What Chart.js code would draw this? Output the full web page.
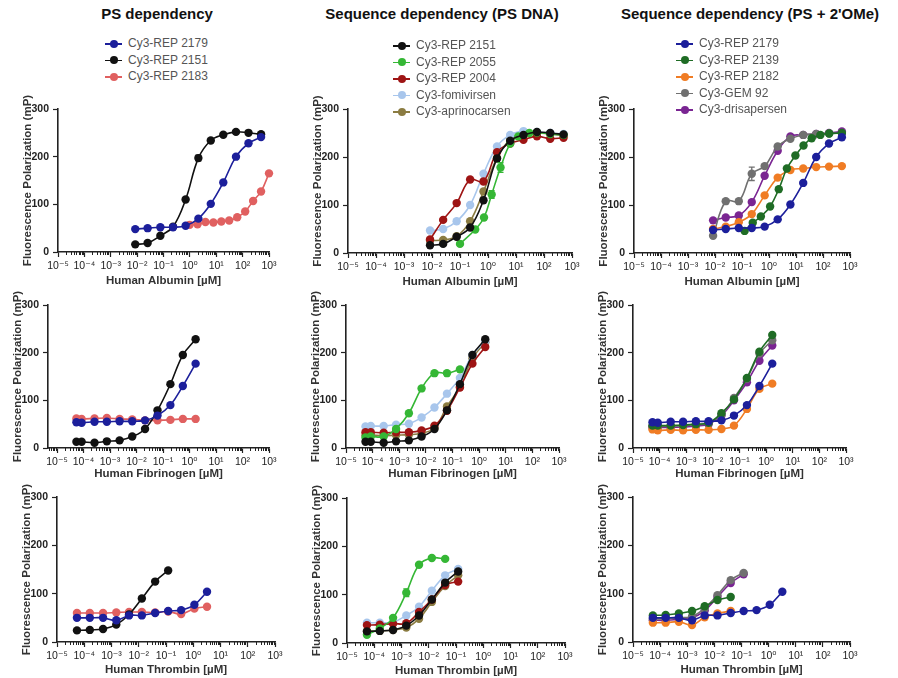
<!doctype html>
<html>
<head>
<meta charset="utf-8">
<script src="https://cdn.jsdelivr.net/npm/chart.js@4.4.0/dist/chart.umd.min.js"></script>
<style>
  body { margin: 0; background: #fff; font-family: "Liberation Sans", Arial, "DejaVu Sans", sans-serif; }
  #page { position: relative; width: 898px; height: 678px; overflow: hidden; }
  .col-title { position: absolute; top: 5px; font-weight: bold; font-size: 15px; color: #111; white-space: nowrap; transform: translateX(-50%); }
  .legend { position: absolute; font-size: 12px; color: #555; z-index: 2; }
  .legend .item { height: 16.5px; line-height: 16.5px; white-space: nowrap; position: relative; padding-left: 23px; }
  .legend .mark { position: absolute; left: 0; top: 8px; width: 17px; height: 1.6px; }
  .legend .dot { position: absolute; left: 4.5px; top: -3.2px; width: 8px; height: 8px; border-radius: 50%; }
  canvas { position: absolute; }
</style>
</head>
<body>
<div id="page"></div>
<script>
// ---- concentrations (µM) ----
const albConc     = [0.0085, 0.025, 0.076, 0.23, 0.69, 2.1, 6.2, 18.5, 56, 167, 500];
const alb2183Conc = [0.98, 1.95, 3.9, 7.8, 15.6, 31, 62.5, 125, 250, 500, 1000];
const alb2055Conc = [0.1, 0.35, 0.72, 1.35, 2.8, 6.2, 12, 30, 56, 167, 500];
const alb2139Conc = [0.125, 0.25, 0.5, 1.1, 2.3, 4.6, 9.5, 19, 38, 80, 170, 500];
const fibConc     = [0.000054, 0.000085, 0.00026, 0.00076, 0.0023, 0.0069, 0.021, 0.062, 0.19, 0.56, 1.7];
const thrConc     = [0.000054, 0.00016, 0.00049, 0.0015, 0.0044, 0.013, 0.04, 0.12, 0.36, 1.1, 3.2];

// ---- fluorescence polarization (mP) : human albumin ----
const alb2179  = [48, 50, 52, 52, 55, 70, 101, 146, 200, 228, 241];
const alb2151  = [16, 19, 34, 53, 110, 197, 234, 246, 252, 250, 247];
const alb2183  = [57, 58, 63, 62, 64, 66, 73, 85, 107, 127, 165];
const alb2055  = [19, 49, 74, 122, 178, 228, 243, 250, 251, 248, 246];
const alb2004  = [28, 69, 104, 153, 149, 210, 228, 236, 243, 238, 240];
const albFomi  = [47, 50, 66, 100, 165, 222, 246, 254, 252, 250, 248];
const albApri  = [26, 27, 35, 66, 128, 198, 236, 246, 250, 248, 245];
const alb2139  = [46, 63, 76, 97, 133, 176, 203, 224, 239, 246, 249, 250];
const alb2182  = [50, 55, 64, 81, 120, 157, 173, 176, 179, 180, 181];
const albGem92 = [36, 108, 108, 165, 181, 222, 238, 246, 248, 249, 250];
const albDris  = [68, 74, 78, 106, 161, 213, 243, 246, 248, 250, 253];

// ---- human fibrinogen ----
const fib2179  = [54, 53, 55, 55, 56, 56, 58, 68, 90, 130, 177];
const fib2151  = [13, 13, 11, 14, 16, 24, 40, 79, 134, 195, 228];
const fib2183  = [62, 61, 62, 63, 61, 60, 58, 58, 59, 61, 61];
const fib2055  = [22, 24, 24, 40, 73, 125, 157, 157, 165];
const fib2004  = [33, 33, 32, 33, 33, 37, 47, 78, 127, 177, 212];
const fibFomi  = [45, 46, 46, 49, 51, 64, 85, 114, 147, 195, 224];
const fibApri  = [27, 27, 26, 27, 28, 31, 42, 87, 128, 188, 222];
const fib2139  = [47, 47, 47, 48, 50, 53, 73, 102, 147, 202, 237];
const fib2182  = [39, 37, 38, 37, 38, 38, 40, 47, 82, 124, 135];
const fibGem92 = [45, 45, 46, 47, 49, 52, 70, 105, 145, 198, 226];
const fibDris  = [43, 43, 43, 44, 46, 50, 68, 100, 138, 183, 215];

// ---- human thrombin ----
const thr2179  = [50, 50, 50, 45, 55, 55, 60, 64, 66, 77, 104];
const thr2151  = [24, 25, 27, 36, 57, 90, 125, 148];
const thr2183  = [60, 60, 60, 61, 62, 62, 61, 63, 58, 69, 73];
const thr2055  = [17, 30, 52, 104, 162, 176, 174];
const thr2004  = [37, 38, 40, 41, 64, 90, 120, 127];
const thrFomi  = [42, 42, 43, 57, 75, 108, 140, 153];
const thrApri  = [25, 25, 27, 32, 50, 85, 118, 140];
const thr2139  = [55, 56, 59, 64, 74, 87, 93];
const thr2182  = [40, 40, 42, 35, 51, 59, 64];
const thrGem92 = [48, 48, 50, 53, 70, 97, 128, 143];
const thrDris  = [45, 45, 47, 50, 65, 93, 122, 140];

// error bars (mP, 0 = none)
const alb2151Err  = [0, 0, 0, 0, 0, 6, 0, 0, 0, 0, 0];
const alb2055Err  = [0, 0, 0, 8, 10, 0, 0, 0, 0, 0, 0];
const albGem92Err = [0, 0, 0, 14, 0, 0, 0, 0, 0, 0, 0];
const thr2055Err  = [0, 0, 0, 8, 0, 0, 0];

const yTicks = [0, 100, 200, 300];
const xDecades = [-5, -4, -3, -2, -1, 0, 1, 2, 3];

const series = {
  r2179: { label: 'Cy3-REP 2179', color: '#1c1f9b' },
  r2151: { label: 'Cy3-REP 2151', color: '#111111' },
  r2183: { label: 'Cy3-REP 2183', color: '#e06060' },
  r2055: { label: 'Cy3-REP 2055', color: '#35b735' },
  r2004: { label: 'Cy3-REP 2004', color: '#9e1414' },
  fomi:  { label: 'Cy3-fomivirsen', color: '#a8c6ec' },
  apri:  { label: 'Cy3-aprinocarsen', color: '#8b7c42' },
  r2139: { label: 'Cy3-REP 2139', color: '#1f6c25' },
  r2182: { label: 'Cy3-REP 2182', color: '#f07c24' },
  gem92: { label: 'Cy3-GEM 92', color: '#707070' },
  dris:  { label: 'Cy3-drisapersen', color: '#7a2592' }
};

const rows = [
  { xTitle: 'Human Albumin [µM]', titleOff: 29, data: {
      r2179: [albConc, alb2179], r2151: [albConc, alb2151, alb2151Err], r2183: [alb2183Conc, alb2183],
      r2055: [alb2055Conc, alb2055, alb2055Err], r2004: [albConc, alb2004], fomi: [albConc, albFomi],
      apri: [albConc, albApri], r2139: [alb2139Conc, alb2139], r2182: [albConc, alb2182],
      gem92: [albConc, albGem92, albGem92Err], dris: [albConc, albDris] } },
  { xTitle: 'Human Fibrinogen [µM]', titleOff: 26, data: {
      r2179: [fibConc, fib2179], r2151: [fibConc, fib2151], r2183: [fibConc, fib2183],
      r2055: [fibConc, fib2055], r2004: [fibConc, fib2004], fomi: [fibConc, fibFomi],
      apri: [fibConc, fibApri], r2139: [fibConc, fib2139], r2182: [fibConc, fib2182],
      gem92: [fibConc, fibGem92], dris: [fibConc, fibDris] } },
  { xTitle: 'Human Thrombin [µM]', titleOff: 28, data: {
      r2179: [thrConc, thr2179], r2151: [thrConc, thr2151], r2183: [thrConc, thr2183],
      r2055: [thrConc, thr2055, thr2055Err], r2004: [thrConc, thr2004], fomi: [thrConc, thrFomi],
      apri: [thrConc, thrApri], r2139: [thrConc, thr2139], r2182: [thrConc, thr2182],
      gem92: [thrConc, thrGem92], dris: [thrConc, thrDris] } }
];

const columns = [
  { title: 'PS dependency', titleX: 157, legend: [105, 35], keys: ['r2179', 'r2151', 'r2183'] },
  { title: 'Sequence dependency (PS DNA)', titleX: 442, legend: [393, 37], keys: ['r2151', 'r2055', 'r2004', 'fomi', 'apri'] },
  { title: "Sequence dependency (PS + 2'OMe)", titleX: 750, legend: [676, 35], keys: ['r2179', 'r2139', 'r2182', 'gem92', 'dris'] }
];

// plot-area boxes in page pixels
const geom = [
  [{ L: 58, R: 269, T: 109, B: 252, xmin: -5 }, { L: 348, R: 572, T: 109, B: 253, xmin: -5 }, { L: 634, R: 850, T: 109, B: 253, xmin: -5 }],
  [{ L: 48, R: 269, T: 305, B: 448, xmin: -5.34 }, { L: 346, R: 559, T: 305, B: 448, xmin: -5 }, { L: 633, R: 846, T: 305, B: 448, xmin: -5 }],
  [{ L: 57, R: 275, T: 497, B: 642, xmin: -5 }, { L: 347, R: 565, T: 498, B: 643, xmin: -5 }, { L: 633, R: 850, T: 497, B: 642, xmin: -5 }]
];

const axisColor = '#222';
const FONT = '"Liberation Sans", Arial, "DejaVu Sans", sans-serif';
const SUP = { '-': '⁻', '0': '⁰', '1': '¹', '2': '²', '3': '³', '4': '⁴', '5': '⁵' };
function decadeLabel(v) {
  const e = Math.round(Math.log10(v));
  return '10' + String(e).split('').map(c => SUP[c]).join('');
}

const minorTicks = {
  id: 'minorTicks',
  afterDraw(chart) {
    const xs = chart.scales.x, ctx = chart.ctx;
    ctx.save();
    ctx.strokeStyle = axisColor;
    ctx.lineWidth = 1;
    for (let e = -6; e < 3; e++) {
      for (let k = 2; k < 10; k++) {
        const v = k * Math.pow(10, e);
        if (v < xs.min || v > xs.max) continue;
        const px = Math.round(xs.getPixelForValue(v)) + 0.5;
        ctx.beginPath();
        ctx.moveTo(px, xs.top);
        ctx.lineTo(px, xs.top + 3);
        ctx.stroke();
      }
    }
    ctx.restore();
  }
};

const errorBars = {
  id: 'errorBars',
  afterDatasetsDraw(chart) {
    const ctx = chart.ctx, ys = chart.scales.y;
    chart.data.datasets.forEach((ds, di) => {
      if (!ds.errors) return;
      const meta = chart.getDatasetMeta(di);
      ds.errors.forEach((err, i) => {
        if (!err) return;
        const pt = meta.data[i], v = ds.data[i].y;
        const y1 = ys.getPixelForValue(v + err), y2 = ys.getPixelForValue(v - err);
        ctx.save();
        ctx.strokeStyle = ds.borderColor;
        ctx.lineWidth = 1.3;
        ctx.beginPath();
        ctx.moveTo(pt.x, y1); ctx.lineTo(pt.x, y2);
        ctx.moveTo(pt.x - 3, y1); ctx.lineTo(pt.x + 3, y1);
        ctx.moveTo(pt.x - 3, y2); ctx.lineTo(pt.x + 3, y2);
        ctx.stroke();
        ctx.restore();
      });
    });
  }
};

const page = document.getElementById('page');

columns.forEach((col, ci) => {
  const t = document.createElement('div');
  t.className = 'col-title';
  t.style.left = col.titleX + 'px';
  t.textContent = col.title;
  page.appendChild(t);

  const lg = document.createElement('div');
  lg.className = 'legend';
  lg.style.left = col.legend[0] + 'px';
  lg.style.top = col.legend[1] + 'px';
  col.keys.forEach(k => {
    const c = series[k].color;
    const it = document.createElement('div');
    it.className = 'item';
    it.innerHTML = '<span class="mark" style="background:' + c + '"><span class="dot" style="background:' + c + '"></span></span>' + series[k].label;
    lg.appendChild(it);
  });
  page.appendChild(lg);
});

const yW = 44, padT = 24, padR = 14, xH = 38;

rows.forEach((row, ri) => {
  columns.forEach((col, ci) => {
    const g = geom[ri][ci];
    const cv = document.createElement('canvas');
    const w = g.R - g.L + yW + padR, h = g.B - g.T + padT + xH;
    cv.width = w; cv.height = h;
    cv.style.left = (g.L - yW) + 'px';
    cv.style.top = (g.T - padT) + 'px';
    cv.style.width = w + 'px';
    cv.style.height = h + 'px';
    page.appendChild(cv);

    const datasets = col.keys.map(k => {
      const [xs, ys, errs] = row.data[k];
      const c = series[k].color;
      return {
        label: series[k].label,
        data: ys.map((y, i) => ({ x: xs[i], y: y })),
        errors: errs,
        borderColor: c,
        backgroundColor: c,
        pointBackgroundColor: c,
        pointBorderColor: c,
        pointRadius: 4.2,
        pointBorderWidth: 0,
        borderWidth: 1.6,
        tension: 0.4,
        clip: false
      };
    });

    new Chart(cv, {
      type: 'line',
      data: { datasets },
      plugins: [minorTicks, errorBars],
      options: {
        responsive: false,
        animation: false,
        events: [],
        layout: { padding: { left: 0, top: padT, right: padR, bottom: 0 } },
        plugins: { legend: { display: false }, tooltip: { enabled: false } },
        scales: {
          x: {
            type: 'logarithmic',
            min: Math.pow(10, g.xmin),
            max: 1000,
            afterBuildTicks: s => { s.ticks = xDecades.map(e => ({ value: Math.pow(10, e) })); },
            afterFit: s => { s.height = xH; },
            border: { display: true, color: axisColor, width: 1.6 },
            grid: { drawOnChartArea: false, tickLength: 5, color: axisColor, tickWidth: 1.2 },
            ticks: {
              autoSkip: false, maxRotation: 0, padding: 3, color: '#222',
              font: { family: FONT, size: 10.5 },
              callback: v => decadeLabel(v)
            },
            title: {
              display: true, text: row.xTitle, color: '#333',
              font: { family: FONT, size: 11.5, weight: 'bold' },
              padding: { top: 0, bottom: xH - row.titleOff - 7 }
            }
          },
          y: {
            min: 0, max: 300,
            afterBuildTicks: s => { s.ticks = yTicks.map(v => ({ value: v })); },
            afterFit: s => { s.width = yW; },
            border: { display: true, color: axisColor, width: 1.6 },
            grid: { drawOnChartArea: false, tickLength: 5, color: axisColor, tickWidth: 1.2 },
            ticks: { padding: 4, color: '#222', font: { family: FONT, size: 10.5, weight: 'bold' } },
            title: {
              display: true, text: 'Fluorescence Polarization (mP)', color: '#333',
              font: { family: FONT, size: 11.5, weight: 'bold' },
              padding: { top: 7, bottom: 0 }
            }
          }
        }
      }
    });
  });
});
</script>
</body>
</html>
